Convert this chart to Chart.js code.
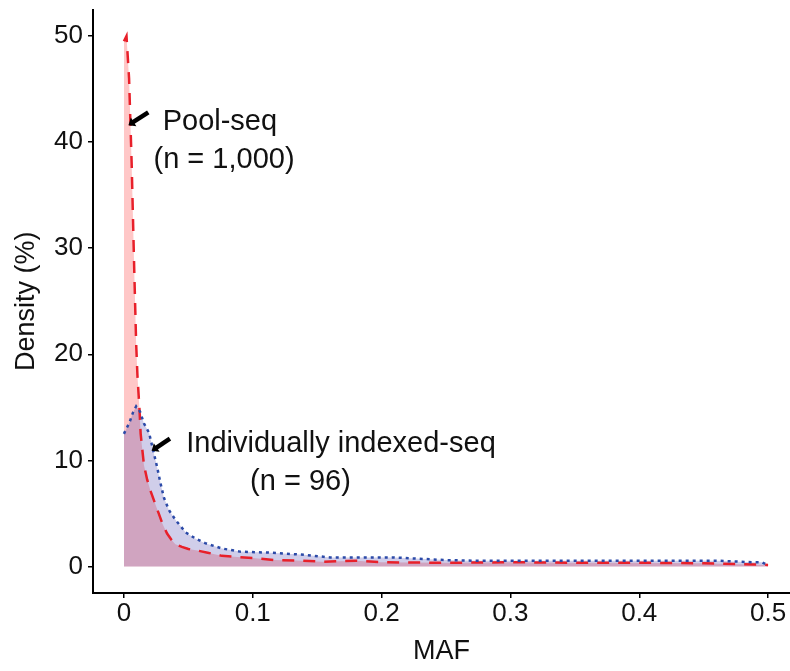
<!DOCTYPE html>
<html>
<head>
<meta charset="utf-8">
<script src="https://cdn.jsdelivr.net/npm/chart.js@4"></script>
<style>
  html, body { margin: 0; padding: 0; background: #fff; }
  #wrap { width: 790px; height: 671px; }
</style>
</head>
<body>
<div id="wrap"><canvas id="grafica"></canvas></div>
<script>
'use strict';

// Pool-seq (n = 1,000)
const mafPool = [0, 0.002, 0.004, 0.006, 0.008, 0.0095, 0.0105, 0.012, 0.013, 0.0155, 0.018, 0.021, 0.024, 0.027,
    0.030, 0.0335, 0.037, 0.040, 0.045, 0.050, 0.057, 0.065, 0.076, 0.088, 0.100, 0.117, 0.134, 0.154, 0.180,
    0.200, 0.250, 0.300, 0.350, 0.400, 0.450, 0.500];
const densidadPool = [49.5, 50, 46, 38, 28, 21, 18, 15, 12.5, 9.6, 8.2, 7.0, 6.0, 5.0,
    4.0, 3.1, 2.5, 2.1, 1.85, 1.65, 1.5, 1.3, 1.0, 0.9, 0.8, 0.6, 0.57, 0.45, 0.55,
    0.4, 0.35, 0.4, 0.35, 0.35, 0.3, 0.15];

// Individually indexed-seq (n = 96)
const mafIndiv = [0, 0.0044, 0.007, 0.0095, 0.0125, 0.0155, 0.0195, 0.023, 0.0257, 0.0285, 0.031, 0.035, 0.040,
    0.048, 0.056, 0.063, 0.076, 0.090, 0.114, 0.140, 0.160, 0.210, 0.250, 0.270, 0.460, 0.487, 0.495, 0.500];
const densidadIndiv = [12.5, 13.6, 14.5, 15.1, 14.6, 13.5, 12.6, 10.8, 9.4, 7.8, 6.5, 5.3, 4.4,
    3.2, 2.6, 2.2, 1.7, 1.4, 1.3, 1.1, 0.85, 0.85, 0.6, 0.55, 0.55, 0.4, 0.4, 0.1];

const ticksX = [0, 0.1, 0.2, 0.3, 0.4, 0.5];
const ticksY = [0, 10, 20, 30, 40, 50];

// textos y flechas (en coordenadas de datos)
const etiquetas = [
    { texto: 'Pool-seq', x: 0.0745, y: 41.9 },
    { texto: '(n = 1,000)', x: 0.0777, y: 38.3 },
    { texto: 'Individually indexed-seq', x: 0.1685, y: 11.5 },
    { texto: '(n = 96)', x: 0.137, y: 8.0 }
];
const flechas = [
    { x0: 0.0189, y0: 42.8, x1: 0.0035, y1: 41.6 },
    { x0: 0.0357, y0: 12.05, x1: 0.0215, y1: 10.9 }
];

const fuente = '"Liberation Sans", Arial, sans-serif';

function puntos(xs, ys) {
    return xs.map((x, i) => ({ x: x, y: ys[i] }));
}

const anotaciones = {
    id: 'anotaciones',
    afterDatasetsDraw(chart) {
        const ctx = chart.ctx;
        const sx = chart.scales.x;
        const sy = chart.scales.y;
        ctx.save();
        ctx.fillStyle = '#111';
        ctx.font = '29px ' + fuente;
        ctx.textAlign = 'center';
        ctx.textBaseline = 'middle';
        etiquetas.forEach(e => {
            ctx.fillText(e.texto, sx.getPixelForValue(e.x), sy.getPixelForValue(e.y));
        });

        ctx.strokeStyle = '#000';
        ctx.fillStyle = '#000';
        flechas.forEach(f => {
            const ax = sx.getPixelForValue(f.x0), ay = sy.getPixelForValue(f.y0);
            const bx = sx.getPixelForValue(f.x1), by = sy.getPixelForValue(f.y1);
            const ang = Math.atan2(by - ay, bx - ax);
            ctx.lineWidth = 4.5;
            ctx.beginPath();
            ctx.moveTo(ax, ay);
            ctx.lineTo(bx - 5 * Math.cos(ang), by - 5 * Math.sin(ang));
            ctx.stroke();
            ctx.beginPath();
            ctx.moveTo(bx, by);
            ctx.lineTo(bx - 8 * Math.cos(ang - 0.7), by - 8 * Math.sin(ang - 0.7));
            ctx.lineTo(bx - 8 * Math.cos(ang + 0.7), by - 8 * Math.sin(ang + 0.7));
            ctx.closePath();
            ctx.fill();
        });
        ctx.restore();
    }
};

const ejeComun = {
    border: { display: true, color: '#000', width: 2 },
    grid: { display: true, drawOnChartArea: false, drawTicks: true, tickLength: 5, color: '#000', lineWidth: 1.5 }
};

new Chart(document.getElementById('grafica').getContext('2d'), {
    type: 'line',
    data: {
        datasets: [{
            label: 'Individually indexed-seq (n = 96)',
            data: puntos(mafIndiv, densidadIndiv),
            borderColor: '#2B4AA8',
            backgroundColor: 'rgba(67, 59, 171, 0.25)',
            borderWidth: 2.5,
            borderDash: [3, 4],
            pointRadius: 0,
            fill: 'origin',
            tension: 0
        }, {
            label: 'Pool-seq (n = 1,000)',
            data: puntos(mafPool, densidadPool),
            borderColor: '#E8202A',
            backgroundColor: 'rgba(255, 0, 0, 0.22)',
            borderWidth: 2.5,
            borderDash: [12, 9],
            pointRadius: 0,
            fill: 'origin',
            tension: 0
        }]
    },
    options: {
        responsive: true,
        maintainAspectRatio: false,
        animation: false,
        layout: { padding: { top: 9.5, right: 0, left: 0, bottom: 0 } },
        scales: {
            x: {
                ...ejeComun,
                type: 'linear',
                min: -0.024,
                max: 0.517,
                afterBuildTicks: s => { s.ticks = ticksX.map(v => ({ value: v })); },
                afterFit: s => { s.height = 78; s.paddingLeft = 0; s.paddingRight = 0; },
                ticks: {
                    autoSkip: false,
                    maxRotation: 0,
                    padding: 0,
                    color: '#111',
                    font: { family: fuente, size: 26 },
                    callback: v => String(v)
                },
                title: {
                    display: true,
                    text: 'MAF',
                    color: '#111',
                    font: { family: fuente, size: 27 },
                    padding: { top: 0, bottom: 3 }
                }
            },
            y: {
                ...ejeComun,
                min: -2.5,
                max: 52.5,
                afterBuildTicks: s => { s.ticks = ticksY.map(v => ({ value: v })); },
                afterFit: s => { s.width = 93; s.paddingTop = 0; s.paddingBottom = 0; },
                ticks: {
                    padding: 5,
                    color: '#111',
                    font: { family: fuente, size: 26 },
                    callback: v => String(v)
                },
                title: {
                    display: true,
                    text: 'Density (%)',
                    color: '#111',
                    font: { family: fuente, size: 27 },
                    padding: { top: 10, bottom: 0 }
                }
            }
        },
        plugins: {
            legend: { display: false },
            tooltip: { enabled: false },
            filler: { drawTime: 'beforeDatasetsDraw' }
        }
    },
    plugins: [anotaciones]
});
</script>
</body>
</html>
